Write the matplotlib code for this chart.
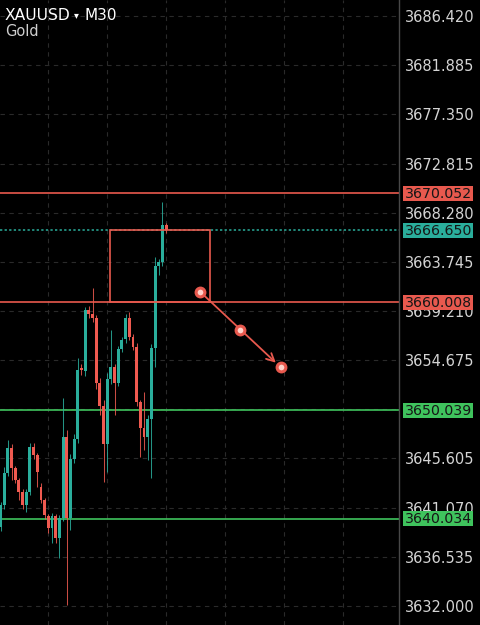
import numpy as np
import matplotlib
matplotlib.use('Agg')
import matplotlib.pyplot as plt
from matplotlib.patches import Rectangle
from matplotlib.transforms import blended_transform_factory

# XAUUSD M30 candles
opens = [3639.3, 3641.3, 3644.3, 3646.6, 3644.7, 3643.6, 3642.5, 3641.3, 3642.5, 3646.7,
         3645.9, 3643.0, 3641.8, 3640.3, 3639.2, 3640.3, 3638.3, 3640.1, 3647.6, 3640.1,
         3645.6, 3647.4, 3653.8, 3653.7, 3659.3, 3658.9, 3658.6, 3652.6, 3650.4, 3646.9,
         3652.9, 3654.0, 3652.6, 3655.7, 3656.6, 3658.6, 3656.8, 3655.9, 3650.8, 3648.4,
         3647.6, 3649.2, 3655.8, 3663.4, 3663.7, 3667.1]
highs = [3641.6, 3644.8, 3647.3, 3646.9, 3644.9, 3643.8, 3642.8, 3642.8, 3647.0, 3647.0,
         3646.1, 3643.3, 3642.0, 3640.5, 3640.6, 3640.5, 3640.4, 3651.2, 3648.2, 3646.0,
         3647.9, 3654.9, 3654.3, 3659.6, 3659.7, 3661.3, 3658.8, 3653.0, 3651.0, 3653.5,
         3657.5, 3654.3, 3656.0, 3656.8, 3658.9, 3659.1, 3657.1, 3656.3, 3651.0, 3651.7,
         3649.6, 3656.2, 3664.2, 3664.0, 3669.3, 3667.3]
lows = [3638.9, 3640.9, 3644.0, 3643.6, 3643.3, 3641.8, 3640.9, 3640.7, 3642.2, 3645.6,
        3643.0, 3641.5, 3640.0, 3638.7, 3637.8, 3637.8, 3636.4, 3639.8, 3632.1, 3639.0,
        3645.2, 3647.0, 3653.3, 3653.2, 3658.6, 3658.2, 3652.0, 3649.6, 3643.4, 3644.4,
        3652.5, 3649.6, 3652.3, 3655.4, 3656.3, 3656.5, 3655.6, 3650.4, 3645.7, 3646.4,
        3645.5, 3643.8, 3654.0, 3662.5, 3663.4, 3666.4]
closes = [3641.3, 3644.3, 3646.6, 3644.7, 3643.6, 3642.5, 3641.3, 3642.5, 3646.7, 3645.9,
          3644.4, 3641.8, 3640.4, 3639.2, 3640.3, 3638.3, 3640.1, 3647.6, 3640.1, 3645.6,
          3647.4, 3653.8, 3653.7, 3659.3, 3658.9, 3658.6, 3652.6, 3650.4, 3646.9, 3652.9,
          3654.0, 3652.6, 3655.7, 3656.5, 3658.6, 3656.8, 3655.9, 3650.8, 3648.4, 3647.6,
          3649.2, 3655.8, 3663.4, 3663.7, 3667.1, 3666.65]

price_ticks = [3686.420, 3681.885, 3677.350, 3672.815, 3668.280, 3663.745, 3659.210,
               3654.675, 3650.140, 3645.605, 3641.070, 3636.535, 3632.000]
time_grid = [-3, 13, 29, 45, 61, 77, 93]

current_price = 3666.650
resist_levels = [3670.052, 3660.008]
support_levels = [3650.039, 3640.034]

zone_t = [29.8, 57.0]
zone_p = [3660.008, 3666.650]

path_t = [54.2, 65.1, 76.2]
path_p = [3661.0, 3657.45, 3654.0]

teal = '#2aae9c'
red = '#ef5a50'
lvl_red = '#e8594e'
lvl_green = '#3fc35d'

fig = plt.figure(figsize=(4.8, 6.25), dpi=100, facecolor='black')
ax = fig.add_axes([0, 0, 399 / 480, 1])
ax.set_facecolor('black')

for s in ['top', 'bottom', 'left']:
    ax.spines[s].set_visible(False)
ax.spines['right'].set_color('#484848')
ax.spines['right'].set_linewidth(1)

ax.yaxis.tick_right()
ax.set_yticks(price_ticks)
ax.set_yticklabels(['%.3f' % p for p in price_ticks])
ax.tick_params(axis='y', length=0, pad=4.5, labelcolor='#d4d4d4', labelsize=10.5)
ax.set_xticks(time_grid)
ax.tick_params(axis='x', length=0, labelbottom=False)
ax.grid(True, color='#2a2a2a', linestyle=(0, (4, 4)), linewidth=0.8)
ax.set_axisbelow(True)

# candles
t = np.arange(len(opens))
o = np.array(opens)
c = np.array(closes)
cols = [teal if cc >= oo else red for oo, cc in zip(o, c)]
ax.vlines(t, lows, highs, colors=cols, linewidth=0.75, alpha=0.85, zorder=3)
body = np.where(np.abs(c - o) < 0.15, 0.15, c - o)
ax.bar(t, body, bottom=o, width=0.8, color=cols, linewidth=0, zorder=4)

# levels
ax.axhline(current_price, color=teal, linestyle=(0, (1.5, 1.5)), linewidth=1.1, zorder=2)
for p in resist_levels:
    ax.axhline(p, color=lvl_red, linewidth=1.2, zorder=2)
for p in support_levels:
    ax.axhline(p, color=lvl_green, linewidth=1.2, zorder=2)

ax.add_patch(Rectangle((zone_t[0], zone_p[0]), zone_t[1] - zone_t[0], zone_p[1] - zone_p[0],
                       fill=False, edgecolor=lvl_red, linewidth=1.2, zorder=5))

ax.annotate('', xy=(path_t[2], path_p[2]), xytext=(path_t[0], path_p[0]),
            arrowprops=dict(arrowstyle='->', color=lvl_red, lw=1.3, mutation_scale=14,
                            shrinkA=0, shrinkB=5), zorder=6)
ax.scatter(path_t, path_p, s=40, facecolor='#ffd2ca', edgecolor=lvl_red, linewidth=2.2, zorder=7)

# limits last, set_xticks would widen them
ax.set_xlim(-0.14, 108.3)
ax.set_ylim(3630.24, 3687.90)

# price tags on the axis
tr = blended_transform_factory(fig.transFigure, ax.transData)
tags = [(resist_levels[0], lvl_red), (current_price, teal), (resist_levels[1], lvl_red),
        (support_levels[0], lvl_green), (support_levels[1], lvl_green)]
for p, col in tags:
    ax.add_patch(Rectangle((403 / 480, p - 0.70), 70 / 480, 1.40, transform=tr,
                           facecolor=col, edgecolor='none', clip_on=False, zorder=8))
    ax.text(404.5 / 480, p - 0.05, '%.3f' % p, transform=tr, ha='left', va='center',
            fontsize=10.2, color='#161616', clip_on=False, zorder=9)

# symbol header
fig.text(5 / 480, 1 - 15 / 625, 'XAUUSD', color='white', fontsize=11.2, va='center', ha='left')
fig.text(74 / 480, 1 - 15 / 625, '\u25be', color='white', fontsize=7, va='center', ha='left')
fig.text(84 / 480, 1 - 15 / 625, 'M30', color='white', fontsize=11, va='center', ha='left')
fig.text(5 / 480, 1 - 31 / 625, 'Gold', color='#cfcfcf', fontsize=10.5, va='center', ha='left')

fig.savefig('out.png', dpi=100, facecolor='black')
